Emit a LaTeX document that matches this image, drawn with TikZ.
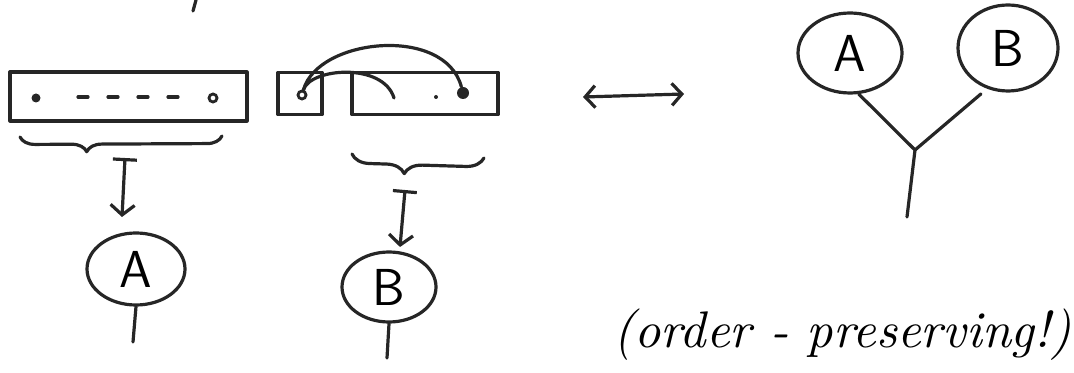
\documentclass[tikz,border=0pt]{standalone}
\usepackage{graphicx}
\usetikzlibrary{shapes.geometric,arrows.meta,decorations.pathreplacing}
\begin{document}
\begin{tikzpicture}[x=0.5pt,y=-0.5pt,
  pen/.style={line width=1.6pt,line cap=round,line join=round,draw=black!85},
  oval/.style={pen,ellipse,inner sep=0pt,font=\fontsize{26}{26}\sffamily},
  listbox/.style={pen,rectangle,inner sep=0pt},
  dotf/.style={circle,fill=black!85,inner sep=0pt,minimum size=4.5pt},
  doto/.style={circle,draw=black!85,line width=1.4pt,inner sep=0pt,minimum size=4pt},
  bracepen/.style={pen,decorate},
  maparrow/.style={pen,{Bar[width=12pt]}-{Straight Barb[length=5pt,width=12pt]}},
]
\useasboundingbox (0,0) rectangle (1074,373);

% small mark at top
\coordinate (m1) at (196,0);
\coordinate (m2) at (193,11);
\draw[pen] (m1) -- (m2);

% left list
\node[listbox,minimum width=118.5pt,minimum height=24.5pt] (box1) at (128.5,96.5) {};
\node[dotf] (d1) at (36,98) {};
\node[doto] (d2) at (213,98) {};
\coordinate (dash1) at (78,97);
\coordinate (dash2) at (182,97);
\draw[pen,dash pattern=on 5pt off 10pt] (dash1) -- (dash2);

% right list: small box and rest box
\node[listbox,minimum width=22pt,minimum height=21pt] (box2) at (300,93.5) {};
\node[listbox,minimum width=73pt,minimum height=21pt] (box3) at (425,93.5) {};
\node[doto] (o) at (302,95) {};
\coordinate (n) at (394,98);
\node[dotf,minimum size=2pt] (d3) at (436,97) {};
\node[dotf,minimum size=6pt] (d4) at (463,93) {};
\draw[pen] (o) .. controls (310,68) and (383,62) .. (n);
\draw[pen] (o) .. controls (318,38) and (445,25) .. (d4);

% braces
\coordinate (b1s) at (20,137);
\coordinate (b1e) at (222,136);
\draw[bracepen,decoration={brace,mirror,amplitude=7.5pt,aspect=0.33}] (b1s) -- (b1e);
\coordinate (b2s) at (352,154);
\coordinate (b2e) at (484,158);
\draw[bracepen,decoration={brace,mirror,amplitude=9pt,aspect=0.4}] (b2s) -- (b2e);

% map arrows
\coordinate (a1s) at (125,158);
\coordinate (a1e) at (122,217);
\draw[maparrow] (a1s) -- (a1e);
\coordinate (a2s) at (405,190);
\coordinate (a2e) at (400,247);
\draw[maparrow] (a2s) -- (a2e);

% bottom trees
\node[oval,minimum width=49pt,minimum height=36pt] (A) at (136,269) {A};
\coordinate (Ab) at (133,342);
\draw[pen] (A.south) -- (Ab);
\node[oval,minimum width=47pt,minimum height=35pt] (B) at (389,287) {B};
\coordinate (Bb) at (387,358);
\draw[pen] (B.south) -- (Bb);

% double arrow
\coordinate (l1) at (583,97);
\coordinate (l2) at (684,94);
\draw[pen,{Straight Barb[length=5pt,width=11pt]}-{Straight Barb[length=5pt,width=11pt]}] (l1) -- (l2);

% joined tree
\node[oval,minimum width=52pt,minimum height=40pt] (rA) at (850,53) {A};
\node[oval,minimum width=50pt,minimum height=43pt] (rB) at (1008,48) {B};
\coordinate (J) at (915,150);
\coordinate (Jb) at (907,217);
\draw[pen] (rA.-78) -- (J) -- ([shift={(-4,6)}]rB.240);
\draw[pen] (J) -- (Jb);

% remark
\node[anchor=base west,inner sep=0pt] (note) at (613,347)
  {\resizebox{229pt}{!}{\itshape (order - preserving!)}};
\end{tikzpicture}
\end{document}
